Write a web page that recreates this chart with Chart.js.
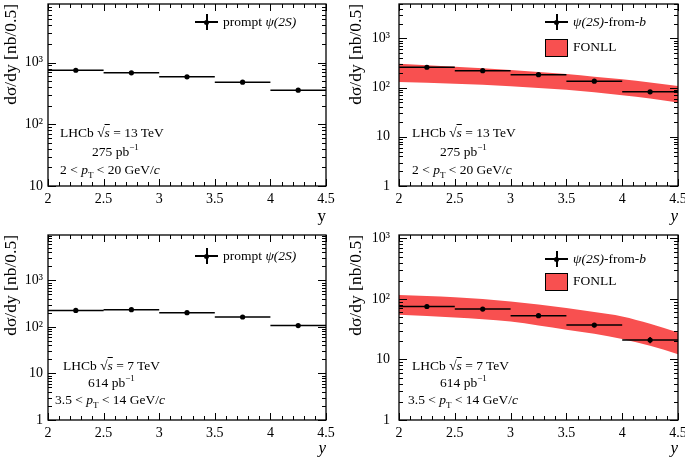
<!DOCTYPE html>
<html>
<head>
<meta charset="utf-8">
<script src="https://cdn.jsdelivr.net/npm/chart.js@4.4.1/dist/chart.umd.min.js"></script>
<style>
body{margin:0;background:#fff;width:685px;height:460px;position:relative;overflow:hidden;font-family:"Liberation Serif",serif;color:#000;}
canvas{position:absolute;}
.t{position:absolute;font-size:13.5px;line-height:14px;white-space:nowrap;}
.t i{font-style:italic;}
.t sup{font-size:9px;vertical-align:6px;line-height:0;}
.t sub{font-size:9px;vertical-align:-4px;line-height:0;}
.ov{text-decoration:overline;font-style:italic;}
.hl{position:absolute;height:1.5px;background:#000;}
.vl{position:absolute;width:1.5px;background:#000;}
.dot{position:absolute;width:5px;height:5px;border-radius:50%;background:#000;}
.box{position:absolute;border:1px solid #000;background-color:rgb(248,80,80);}
</style>
</head>
<body>
<canvas id="c1" width="342" height="230" style="left:0;top:0"></canvas>
<canvas id="c2" width="343" height="230" style="left:342px;top:0"></canvas>
<canvas id="c3" width="342" height="230" style="left:0;top:230px"></canvas>
<canvas id="c4" width="343" height="230" style="left:342px;top:230px"></canvas>

<!-- top left -->
<div class="hl" style="left:195px;top:21px;width:23px"></div>
<div class="vl" style="left:206px;top:14px;height:16px"></div>
<div class="dot" style="left:204px;top:19.5px"></div>
<div class="t" style="left:223px;top:15px">prompt <i>ψ(2S)</i></div>
<div class="t" style="left:60px;top:126px">LHCb √<span class="ov">s</span> = 13 TeV</div>
<div class="t" style="left:92px;top:145px">275 pb<sup>−1</sup></div>
<div class="t" style="left:60px;top:163px">2 &lt; <i>p</i><sub>T</sub> &lt; 20 GeV/<i>c</i></div>

<!-- top right -->
<div class="hl" style="left:545px;top:21px;width:23px"></div>
<div class="vl" style="left:556px;top:14px;height:16px"></div>
<div class="dot" style="left:554px;top:19.5px"></div>
<div class="t" style="left:573px;top:15px"><i>ψ(2S)</i>-from-<i>b</i></div>
<div class="box" style="left:545px;top:39px;width:21px;height:16px"></div>
<div class="t" style="left:573px;top:40px">FONLL</div>
<div class="t" style="left:412px;top:126px">LHCb √<span class="ov">s</span> = 13 TeV</div>
<div class="t" style="left:440px;top:145px">275 pb<sup>−1</sup></div>
<div class="t" style="left:412px;top:163px">2 &lt; <i>p</i><sub>T</sub> &lt; 20 GeV/<i>c</i></div>

<!-- bottom left -->
<div class="hl" style="left:195px;top:255px;width:23px"></div>
<div class="vl" style="left:206px;top:248px;height:16px"></div>
<div class="dot" style="left:204px;top:253.5px"></div>
<div class="t" style="left:223px;top:249px">prompt <i>ψ(2S)</i></div>
<div class="t" style="left:63px;top:359px">LHCb √<span class="ov">s</span> = 7 TeV</div>
<div class="t" style="left:88px;top:376px">614 pb<sup>−1</sup></div>
<div class="t" style="left:55px;top:393px">3.5 &lt; <i>p</i><sub>T</sub> &lt; 14 GeV/<i>c</i></div>

<!-- bottom right -->
<div class="hl" style="left:545px;top:258px;width:23px"></div>
<div class="vl" style="left:556px;top:251px;height:16px"></div>
<div class="dot" style="left:554px;top:256.5px"></div>
<div class="t" style="left:573px;top:252px"><i>ψ(2S)</i>-from-<i>b</i></div>
<div class="box" style="left:545px;top:273px;width:21px;height:16px"></div>
<div class="t" style="left:573px;top:274px">FONLL</div>
<div class="t" style="left:412px;top:359px">LHCb √<span class="ov">s</span> = 7 TeV</div>
<div class="t" style="left:440px;top:376px">614 pb<sup>−1</sup></div>
<div class="t" style="left:408px;top:393px">3.5 &lt; <i>p</i><sub>T</sub> &lt; 14 GeV/<i>c</i></div>

<script>
// rapidity bins
var binCenters = [2.25, 2.75, 3.25, 3.75, 4.25];
var binHalf = 0.25;

// 13 TeV
var prompt13 = [751, 682, 588, 482, 357];
var prompt13Err = [30, 27, 24, 20, 16];
var fromB13 = [259, 221, 183, 135, 82];
var fromB13Err = [16, 13, 11, 9, 7];

// 7 TeV
var prompt7 = [227, 235, 203, 164, 107];
var prompt7Err = [10, 10, 9, 8, 6];
var fromB7 = [75, 68, 53, 37, 21];
var fromB7Err = [6, 5, 4, 3, 2.5];

// FONLL bands
var bandX = [2, 2.5, 3, 3.5, 3.75, 4, 4.25, 4.5];
var fonll13Up = [305, 265, 228, 188, 166, 148, 127, 108];
var fonll13Lo = [130, 120, 107, 90, 80, 70, 60, 50];
var fonll7Up = [116, 107, 91, 71, 61, 51.5, 39, 28];
var fonll7Lo = [55, 49.5, 42.5, 31, 26.5, 21.7, 16.8, 12.2];

// ticks
var xTicks = [2, 2.5, 3, 3.5, 4, 4.5];
var xTickLabels = ['2', '2.5', '3', '3.5', '4', '4.5'];
var yTicksA = [10, 100, 1000];
var yLabelsA = ['10', '10²', '10³'];
var yTicksB = [1, 10, 100, 1000];
var yLabelsB = ['1', '10', '10²', '10³'];

var FAM = '"Liberation Serif", serif';
var BAND = 'rgb(248,80,80)';

// frame with inside ticks on all four sides (ROOT style)
var framePlugin = {
  id: 'frame',
  afterDraw: function(chart) {
    var ctx = chart.ctx, a = chart.chartArea;
    var x = chart.scales.x, y = chart.scales.y;
    ctx.save();
    ctx.strokeStyle = '#000';
    ctx.lineWidth = 1.3;
    ctx.strokeRect(a.left, a.top, a.right - a.left, a.bottom - a.top);
    ctx.lineWidth = 1;
    ctx.beginPath();
    for (var i = 0; i <= 25; i++) {
      var v = 2 + i * 0.1;
      var px = Math.round(x.getPixelForValue(v)) + 0.5;
      var len = (i % 5 === 0) ? 7 : 4;
      ctx.moveTo(px, a.bottom); ctx.lineTo(px, a.bottom - len);
      ctx.moveTo(px, a.top); ctx.lineTo(px, a.top + len);
    }
    for (var d = y.min; d < y.max; d *= 10) {
      for (var k = 1; k <= 9; k++) {
        var val = d * k;
        if (val < y.min || val > y.max) continue;
        var py = Math.round(y.getPixelForValue(val)) + 0.5;
        var l2 = (k === 1) ? 8 : 4;
        ctx.moveTo(a.left, py); ctx.lineTo(a.left + l2, py);
        ctx.moveTo(a.right, py); ctx.lineTo(a.right - l2, py);
      }
    }
    ctx.stroke();
    ctx.restore();
  }
};

function hBars(vals) {
  var out = [];
  for (var i = 0; i < vals.length; i++) {
    out.push({x: binCenters[i] - binHalf, y: vals[i]});
    out.push({x: binCenters[i] + binHalf, y: vals[i]});
    out.push({x: binCenters[i] + binHalf, y: null});
  }
  return out;
}
function vBars(vals, errs) {
  var out = [];
  for (var i = 0; i < vals.length; i++) {
    out.push({x: binCenters[i], y: vals[i] - errs[i]});
    out.push({x: binCenters[i], y: vals[i] + errs[i]});
    out.push({x: binCenters[i], y: null});
  }
  return out;
}
function pts(xs, ys) {
  return xs.map(function(v, i) { return {x: v, y: ys[i]}; });
}

function makePanel(id, p) {
  var datasets = [
    {type: 'scatter', data: pts(binCenters, p.vals), pointRadius: 2.6, pointBackgroundColor: '#000', pointBorderWidth: 0, order: 0},
    {type: 'line', data: hBars(p.vals), borderColor: '#000', borderWidth: 1.5, pointRadius: 0, spanGaps: false, fill: false, order: 1},
    {type: 'line', data: vBars(p.vals, p.errs), borderColor: '#000', borderWidth: 1.5, pointRadius: 0, spanGaps: false, fill: false, order: 1}
  ];
  if (p.up) {
    datasets.push({type: 'line', data: pts(bandX, p.up), borderWidth: 0, borderColor: 'rgba(0,0,0,0)', pointRadius: 0, fill: '+1', backgroundColor: BAND, cubicInterpolationMode: 'monotone', order: 5});
    datasets.push({type: 'line', data: pts(bandX, p.lo), borderWidth: 0, borderColor: 'rgba(0,0,0,0)', pointRadius: 0, fill: false, cubicInterpolationMode: 'monotone', order: 6});
  }
  return new Chart(document.getElementById(id), {
    type: 'scatter',
    data: {datasets: datasets},
    options: {
      responsive: false,
      animation: false,
      devicePixelRatio: 1,
      events: [],
      layout: {padding: {left: 0, right: p.padR, top: p.padT, bottom: 0}},
      plugins: {legend: {display: false}, tooltip: {enabled: false}},
      scales: {
        x: {
          type: 'linear', min: 2, max: 4.5,
          afterBuildTicks: function(s) { s.ticks = xTicks.map(function(v) { return {value: v}; }); },
          afterFit: function(s) { s.height = p.xH; s.paddingLeft = 0; s.paddingRight = 0; },
          grid: {display: false, drawTicks: false},
          border: {display: false},
          ticks: {color: '#000', font: {family: FAM, size: 14}, padding: 5, maxRotation: 0, autoSkip: false,
            callback: function(v, i) { return xTickLabels[i]; }},
          title: {display: true, text: 'y', align: 'end', color: '#000',
            font: {family: FAM, size: 17, style: p.italicY ? 'italic' : 'normal'}, padding: {top: 0, bottom: p.xTitlePad}}
        },
        y: {
          type: 'logarithmic', min: p.yMin, max: p.yMax,
          afterBuildTicks: function(s) { s.ticks = p.yTicks.map(function(v) { return {value: v}; }); },
          afterFit: function(s) { s.width = p.yW; s.paddingTop = 0; s.paddingBottom = 0; },
          grid: {display: false, drawTicks: false},
          border: {display: false},
          ticks: {color: '#000', font: {family: FAM, size: 14}, padding: p.yPad,
            callback: function(v, i) { return p.yLabels[i]; }},
          title: {display: true, text: 'dσ/dy [nb/0.5]', align: 'end', color: '#000',
            font: {family: FAM, size: 17.5}, padding: {top: p.yTitlePad, bottom: 0}}
        }
      }
    },
    plugins: [framePlugin]
  });
}

makePanel('c1', {vals: prompt13, errs: prompt13Err, yMin: 10, yMax: 8900, yTicks: yTicksA, yLabels: yLabelsA,
  padR: 16, padT: 3, xH: 44, yW: 48, yPad: 5, yTitlePad: 1, xTitlePad: 3, italicY: false});
makePanel('c2', {vals: fromB13, errs: fromB13Err, up: fonll13Up, lo: fonll13Lo, yMin: 1, yMax: 5000, yTicks: yTicksB, yLabels: yLabelsB,
  padR: 7, padT: 3, xH: 44, yW: 57, yPad: 9, yTitlePad: 4, xTitlePad: 3, italicY: true});
makePanel('c3', {vals: prompt7, errs: prompt7Err, yMin: 1, yMax: 9500, yTicks: yTicksB, yLabels: yLabelsB,
  padR: 16, padT: 5, xH: 40, yW: 48, yPad: 5, yTitlePad: 1, xTitlePad: 1, italicY: true});
makePanel('c4', {vals: fromB7, errs: fromB7Err, up: fonll7Up, lo: fonll7Lo, yMin: 1, yMax: 1140, yTicks: yTicksB, yLabels: yLabelsB,
  padR: 7, padT: 5, xH: 40, yW: 57, yPad: 9, yTitlePad: 4, xTitlePad: 1, italicY: true});
</script>
</body>
</html>
